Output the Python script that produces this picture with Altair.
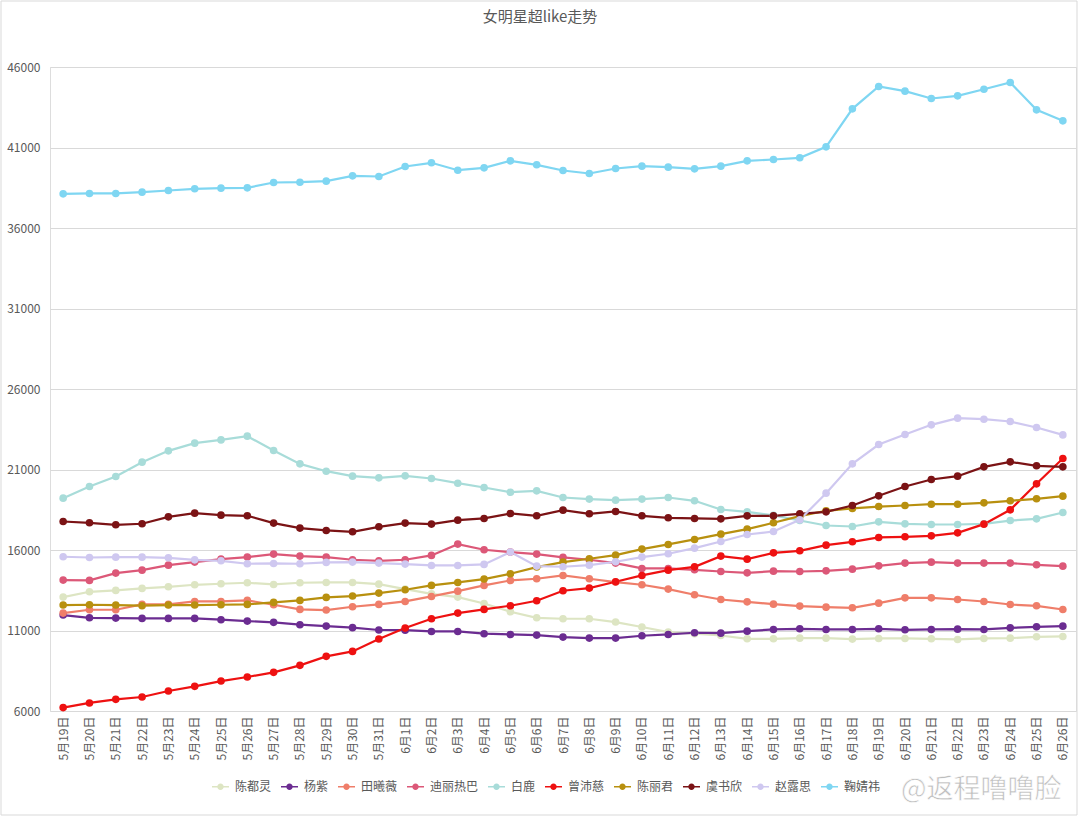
import altair as alt
import pandas as pd

dates = [f"5月{d}日" for d in range(19, 32)] + [f"6月{d}日" for d in range(1, 27)]

names = ["陈都灵", "杨紫", "田曦薇", "迪丽热巴", "白鹿", "曾沛慈", "陈丽君", "虞书欣", "赵露思", "鞠婧祎"]
colors = ["#dde5c3", "#6b2c91", "#ef7e6a", "#dc5878", "#a8dcd9", "#ee1111", "#b8900f", "#7b1315", "#cfc8f0", "#7fd6f2"]

chen_duling = [13075, 13405, 13490, 13615, 13715, 13840, 13905, 13965, 13860, 13965, 13985, 13985,
               13880, 13570, 13280, 13075, 12680, 12165, 11790, 11730, 11730, 11525, 11215, 10900, 10800,
               10690, 10485, 10485, 10525, 10525, 10465, 10505, 10505, 10485, 10445, 10505, 10525, 10610, 10630]
yang_zi = [11960, 11790, 11770, 11750, 11750, 11750, 11670, 11585, 11505, 11360, 11275, 11175,
           11030, 11020, 10940, 10940, 10800, 10755, 10715, 10590, 10530, 10530, 10675, 10755, 10860,
           10835, 10960, 11065, 11105, 11065, 11065, 11105, 11045, 11065, 11085, 11065, 11165, 11230, 11270]
tian_xiwei = [12080, 12290, 12290, 12620, 12620, 12805, 12805, 12870, 12600, 12310, 12270, 12475,
              12620, 12805, 13115, 13445, 13800, 14110, 14215, 14420, 14215, 14005, 13840, 13570, 13220,
              12925, 12780, 12635, 12515, 12450, 12410, 12700, 13030, 13030, 12925, 12800, 12615, 12535, 12305]
dilireba = [14130, 14110, 14565, 14750, 15060, 15250, 15435, 15560, 15745, 15620, 15560, 15395,
            15330, 15395, 15665, 16365, 16015, 15870, 15745, 15540, 15395, 15185, 14855, 14855, 14770,
            14665, 14580, 14685, 14665, 14705, 14810, 15015, 15185, 15245, 15185, 15185, 15185, 15080, 14995]
bai_lu = [19220, 19945, 20565, 21455, 22160, 22635, 22840, 23070, 22180, 21350, 20895, 20585,
          20480, 20605, 20440, 20150, 19880, 19590, 19675, 19260, 19160, 19095, 19160, 19260, 19055,
          18515, 18370, 18150, 17830, 17520, 17460, 17750, 17625, 17585, 17585, 17625, 17830, 17935, 18330]
zeng_peici = [6210, 6500, 6725, 6870, 7240, 7530, 7860, 8110, 8400, 8835, 9395, 9700,
              10470, 11150, 11730, 12080, 12310, 12540, 12850, 13470, 13635, 14025, 14420, 14750, 14955,
              15620, 15430, 15825, 15950, 16300, 16510, 16780, 16820, 16880, 17065, 17605, 18495, 20110, 21685]
chen_lijun = [12580, 12600, 12580, 12540, 12580, 12580, 12600, 12620, 12745, 12870, 13055, 13140,
              13325, 13530, 13800, 13985, 14195, 14525, 14940, 15250, 15455, 15680, 16055, 16345, 16655,
              16985, 17295, 17690, 18100, 18435, 18580, 18700, 18765, 18845, 18845, 18930, 19055, 19180, 19345]
yu_shuxin = [17770, 17690, 17565, 17630, 18060, 18290, 18165, 18125, 17670, 17360, 17215, 17130,
             17440, 17670, 17610, 17855, 17960, 18270, 18125, 18475, 18250, 18395, 18125, 18000, 17960,
             17935, 18120, 18120, 18245, 18370, 18765, 19365, 19945, 20380, 20585, 21165, 21475, 21230, 21165]
zhao_lusi = [15580, 15535, 15555, 15555, 15515, 15390, 15330, 15145, 15165, 15145, 15230, 15250,
             15185, 15125, 15040, 15040, 15105, 15870, 15000, 14960, 15060, 15270, 15560, 15765, 16115,
             16530, 16965, 17150, 17875, 19530, 21350, 22550, 23175, 23775, 24190, 24125, 23980, 23610, 23150]
ju_jingyi = [38123, 38145, 38145, 38225, 38330, 38435, 38475, 38495, 38825, 38845, 38910, 39240, 39200,
             39820, 40050, 39590, 39735, 40170, 39925, 39570, 39385, 39695, 39840, 39780, 39675, 39840,
             40170, 40255, 40360, 41040, 43400, 44790, 44500, 44045, 44210, 44620, 45035, 43340, 42655]

series = [chen_duling, yang_zi, tian_xiwei, dilireba, bai_lu, zeng_peici, chen_lijun, yu_shuxin, zhao_lusi, ju_jingyi]
y_ticks = [6000, 11000, 16000, 21000, 26000, 31000, 36000, 41000, 46000]
title_text = "女明星超like走势"
watermark_text = "@返程噜噜脸"

rows = []
for n, vals in zip(names, series):
    for d, v in zip(dates, vals):
        rows.append({"date": d, "star": n, "value": v})
df = pd.DataFrame(rows)

FONT = "Noto Sans CJK SC"
x = alt.X("date:O", sort=dates, scale=alt.Scale(padding=0.5),
          axis=alt.Axis(title=None, labelAngle=270, ticks=False, domain=False, grid=False,
                        labelPadding=5, labelFontSize=12, labelColor="#595959", labelFont=FONT))
y = alt.Y("value:Q", scale=alt.Scale(domain=[6000, 46000], nice=False, zero=False),
          axis=alt.Axis(title=None, values=y_ticks, format="d", ticks=False, domain=False,
                        gridColor="#d9d9d9", gridWidth=1, labelPadding=10, labelFontSize=12,
                        labelColor="#595959", labelFont=FONT))

legend_path = "M-1,-0.09H1V0.09H-1Z M0.38,0A0.38,0.38 0 1,1 -0.38,0A0.38,0.38 0 1,1 0.38,0Z"

lines = alt.Chart(df).mark_line(strokeWidth=2.2).encode(
    x=x, y=y, color=alt.Color("star:N", scale=alt.Scale(domain=names, range=colors), legend=None),
    detail="star:N")
points = alt.Chart(df).mark_point(filled=True, size=58, opacity=1).encode(
    x=x, y=y,
    color=alt.Color("star:N", scale=alt.Scale(domain=names, range=colors), sort=names,
                    legend=alt.Legend(title=None, orient="none", legendX=162, legendY=711,
                                      direction="horizontal", columns=10, symbolType=legend_path,
                                      symbolSize=289, symbolStrokeWidth=0, labelFontSize=12,
                                      labelColor="#595959", labelFont=FONT, labelOffset=6,
                                      columnPadding=9, padding=0, labelLimit=200)))

border = alt.Chart(pd.DataFrame({"k": [0]})).mark_rect(
    fill=None, stroke="#d9d9d9", strokeWidth=1).encode(
    x=alt.value(-49), x2=alt.value(1027), y=alt.value(-66), y2=alt.value(748))

title = alt.Chart(pd.DataFrame({"t": [title_text]})).mark_text(
    align="center", baseline="middle", fontSize=15, font=FONT, color="#595959").encode(
    x=alt.value(490), y=alt.value(-50), text="t:N")

wm = alt.Chart(pd.DataFrame({"t": [watermark_text]})).mark_text(
    align="left", baseline="middle", fontSize=27, font=FONT, color="#bdbdbd",
    stroke="#ffffff", strokeWidth=0.6).encode(
    x=alt.value(851), y=alt.value(723), text="t:N")

chart = alt.layer(border, title, lines, points, wm).resolve_legend(color="independent").properties(
    width=1026, height=644,
    autosize=alt.AutoSizeParams(type="none"),
    padding={"left": 50, "top": 67, "right": 4, "bottom": 106},
).configure_view(stroke=None).configure(background="white")

chart.save("out.html", embed_options={"renderer": "svg", "actions": False})
